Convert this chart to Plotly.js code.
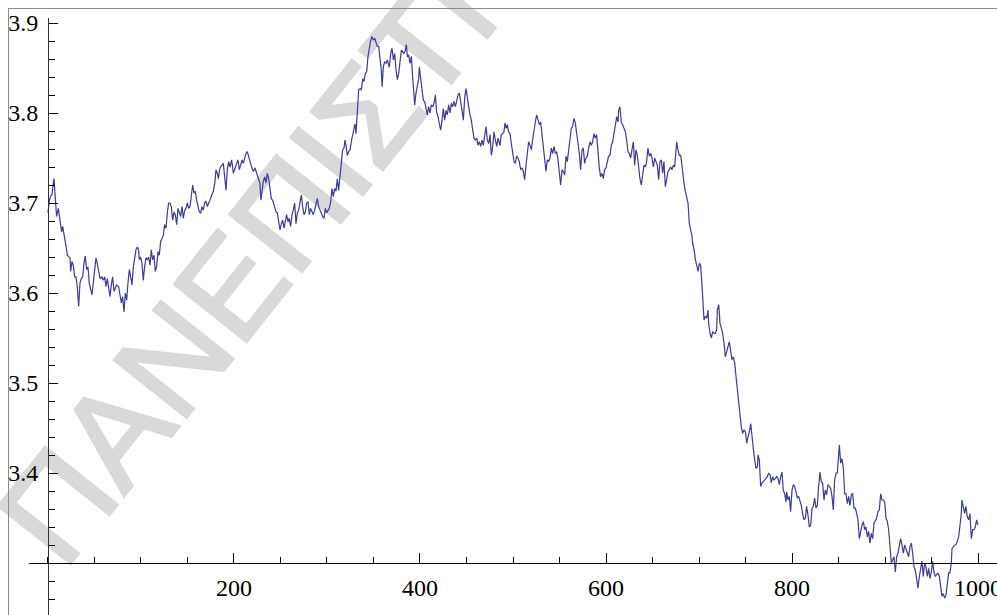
<!DOCTYPE html>
<html><head><meta charset="utf-8">
<script src="https://cdn.plot.ly/plotly-3.0.1.min.js"></script>
<style>
html,body{margin:0;padding:0;background:#fff;}
#wrap{position:relative;width:997px;height:615px;overflow:hidden;background:#fff;}
#wm{position:absolute;left:0;top:0;z-index:0;}
#frame{position:absolute;left:8px;top:8px;width:1200px;height:800px;border-left:1px solid #8a8a8a;border-top:1px solid #8a8a8a;z-index:2;pointer-events:none;}
#chart{position:absolute;left:0;top:0;width:997px;height:615px;z-index:1;}
#chart text{font-family:"Liberation Serif","Times New Roman",serif !important;}
</style></head>
<body><div id="wrap">
<svg id="wm" width="997" height="615"><text x="64" y="572" transform="rotate(-51.6 64 572)" font-family="'Liberation Sans', Arial, sans-serif" font-size="134" fill="#d9d9d9" stroke="#d9d9d9" stroke-width="3">ΠΑΝΕΠΙΣΤΗΜΙΟ</text></svg>
<div id="chart"></div><div id="frame"></div></div>
<script>
// readings [x, y], segment by segment
const seg1 = [[0,3.689],[1.4,3.702],[2.9,3.708],[4.3,3.709],[5.7,3.722],[6.5,3.727],[7.5,3.711],[9.3,3.685],[11.1,3.694],[12.2,3.685],[13.6,3.674],[14.7,3.668],[15.8,3.674],[17.2,3.663],[19.4,3.652],[20.8,3.642],[22.2,3.640],[23.7,3.639],[24.4,3.624],[25.8,3.635],[27.2,3.631],[28.7,3.618],[30.1,3.618],[31.5,3.607],[33.0,3.585],[34.4,3.611],[35.8,3.616],[37.3,3.618],[38.7,3.633],[40.1,3.641],[41.6,3.626],[43.0,3.629],[44.4,3.611],[45.9,3.605],[47.3,3.598],[48.7,3.611],[50.2,3.629],[51.6,3.639],[53.0,3.633],[54.5,3.626],[55.9,3.616],[58.1,3.618],[59.5,3.614],[60.9,3.618],[62.4,3.607],[63.8,3.616],[65.2,3.605],[66.7,3.596],[68.1,3.609],[69.5,3.618],[71.0,3.602],[72.4,3.607],[73.8,3.609],[76.0,3.607],[77.4,3.596],[78.9,3.589],[80.3,3.596],[81.7,3.579],[83.2,3.600],[84.6,3.592],[86.0,3.611],[87.5,3.626],[88.9,3.618],[90.3,3.609],[91.8,3.629],[93.2,3.637],[94.6,3.648],[96.1,3.651],[97.5,3.648],[98.2,3.637],[99.6,3.640],[101.1,3.633],[102.5,3.614],[103.9,3.629],[105.4,3.639],[106.8,3.637],[108.2,3.640],[109.7,3.631],[111.1,3.648],[112.5,3.637],[114.0,3.642],[115.4,3.624],[116.8,3.629],[118.3,3.646],[119.7,3.642],[121.1,3.657],[122.6,3.661],[124.0,3.664],[125.4,3.676],[126.9,3.672],[128.3,3.689],[129.7,3.700],[131.2,3.700],[132.6,3.696],[134.1,3.681],[135.5,3.690],[136.9,3.687],[138.4,3.676],[139.8,3.694],[141.2,3.689],[142.7,3.685],[144.1,3.696],[145.5,3.683],[147.0,3.692],[148.4,3.694],[149.8,3.700],[151.3,3.694],[152.7,3.696],[154.1,3.711],[155.6,3.720],[157.0,3.711],[158.4,3.713],[159.9,3.703],[161.3,3.696],[162.7,3.690],[164.2,3.689],[165.6,3.696],[167.0,3.692],[168.5,3.700],[169.9,3.702],[171.3,3.696],[172.8,3.700],[174.2,3.703]];
const seg2 = [[176.0,3.709],[177.8,3.713],[179.6,3.724],[180.6,3.737],[182.1,3.733],[183.2,3.727],[184.9,3.739],[186.7,3.742],[188.5,3.744],[190.3,3.726],[191.4,3.714],[192.8,3.737],[194.3,3.746],[195.7,3.740],[197.5,3.748],[199.3,3.733],[201.1,3.740],[202.9,3.744],[204.3,3.748],[205.7,3.737],[207.2,3.742],[208.6,3.748],[210.0,3.744],[211.5,3.750],[212.9,3.755],[214.3,3.757],[215.8,3.751],[217.2,3.744],[219.0,3.740],[220.8,3.735],[222.6,3.739],[224.4,3.733],[226.2,3.727],[227.9,3.722],[229.0,3.703],[230.1,3.716],[231.5,3.724],[233.0,3.729],[234.4,3.722],[235.8,3.733],[237.3,3.727],[238.7,3.716],[240.1,3.705],[241.6,3.703],[243.0,3.698],[245.2,3.690],[246.6,3.689],[248.0,3.679],[249.5,3.670],[250.9,3.677],[252.3,3.681],[253.8,3.672],[255.2,3.679],[256.6,3.687],[258.1,3.679],[259.5,3.683],[260.9,3.674],[262.4,3.687],[263.8,3.692],[265.2,3.700],[266.7,3.677],[268.1,3.689],[269.5,3.692],[271.0,3.701],[272.4,3.709],[273.8,3.696],[275.3,3.687],[276.7,3.690],[278.1,3.700],[279.6,3.701],[281.0,3.687],[282.4,3.694],[283.9,3.689],[285.3,3.687],[286.7,3.692],[288.2,3.701],[289.6,3.705],[291.0,3.696],[292.5,3.692],[293.9,3.689],[295.3,3.685],[296.8,3.683],[298.2,3.694],[299.6,3.689],[301.1,3.692],[302.5,3.694],[303.9,3.701],[305.4,3.716],[306.8,3.707],[308.2,3.716],[309.7,3.713],[311.1,3.727],[312.5,3.714],[314.0,3.733],[315.4,3.751],[316.8,3.759],[318.3,3.761],[319.3,3.770],[320.4,3.764],[321.9,3.753],[323.3,3.757],[324.7,3.759]];
const seg3 = [[326.5,3.770],[328.3,3.781],[330.1,3.788],[331.2,3.777],[332.6,3.800],[334.1,3.826],[335.5,3.827],[336.9,3.826],[338.4,3.838],[339.8,3.835],[341.2,3.844],[342.7,3.846],[344.1,3.863],[345.5,3.874],[347.0,3.881],[348.4,3.885],[349.8,3.881],[351.3,3.883],[352.7,3.877],[354.1,3.874],[355.6,3.874],[357.0,3.863],[358.4,3.848],[359.2,3.829],[360.6,3.851],[362.0,3.857],[363.5,3.855],[364.9,3.859],[366.3,3.855],[367.0,3.851],[368.5,3.866],[369.9,3.872],[371.4,3.859],[372.8,3.866],[374.2,3.848],[375.7,3.837],[377.1,3.844],[378.5,3.861],[380.0,3.870],[381.4,3.868],[382.8,3.866],[384.3,3.870],[385.3,3.876],[386.4,3.863],[387.8,3.864],[389.3,3.855],[390.7,3.863],[392.1,3.840],[393.6,3.822],[394.3,3.809],[395.7,3.822],[397.2,3.833],[398.6,3.838],[399.3,3.851],[400.7,3.838],[402.2,3.829],[403.6,3.814],[405.0,3.813],[406.5,3.803],[407.9,3.798],[409.3,3.807],[410.8,3.800],[412.2,3.809],[413.6,3.807],[415.1,3.811],[416.5,3.820],[417.9,3.801],[419.4,3.796],[420.8,3.788],[422.2,3.781],[423.7,3.792],[425.1,3.805],[426.5,3.792],[428.0,3.803],[429.4,3.798],[430.8,3.809],[432.3,3.800],[433.7,3.811],[435.2,3.807],[436.6,3.813],[438.0,3.807],[439.5,3.816],[440.9,3.820],[442.3,3.822],[443.8,3.814],[445.2,3.803],[446.6,3.792],[448.1,3.818],[449.5,3.827],[450.9,3.814],[452.4,3.807],[453.8,3.798],[455.2,3.792],[456.7,3.781],[458.1,3.772],[459.5,3.770],[461.0,3.772],[462.4,3.764],[463.8,3.768],[465.3,3.763],[466.7,3.770],[468.1,3.764],[469.6,3.779],[471.0,3.785],[472.4,3.770],[473.9,3.766],[475.3,3.776],[476.7,3.753],[478.2,3.763],[479.6,3.779],[481.0,3.770],[482.5,3.763],[483.9,3.772]];
const seg4 = [[486.0,3.764],[487.4,3.776],[488.9,3.777],[490.3,3.779],[491.4,3.789],[492.5,3.783],[493.9,3.787],[495.3,3.779],[496.8,3.777],[498.2,3.766],[499.6,3.757],[501.1,3.746],[502.5,3.744],[503.9,3.752],[505.4,3.750],[506.8,3.746],[508.2,3.737],[509.7,3.739],[511.1,3.735],[512.5,3.726],[514.0,3.742],[515.4,3.757],[516.8,3.768],[518.3,3.764],[519.7,3.759],[521.1,3.770],[522.6,3.783],[524.0,3.790],[525.4,3.798],[526.9,3.792],[528.3,3.787],[529.7,3.790],[531.2,3.776],[532.6,3.768],[534.0,3.752],[535.5,3.735],[536.9,3.748],[538.3,3.746],[539.8,3.750],[541.2,3.761],[542.6,3.755],[544.1,3.763],[545.5,3.755],[546.9,3.757],[548.4,3.748],[549.8,3.737],[551.2,3.720],[552.7,3.737],[554.1,3.735],[555.5,3.731],[557.0,3.752],[558.4,3.746],[559.8,3.757],[561.3,3.774],[562.7,3.783],[564.1,3.785],[565.6,3.794],[567.0,3.789],[568.4,3.779],[569.9,3.764],[571.3,3.755],[572.7,3.737],[574.2,3.759],[575.6,3.761],[577.0,3.744],[578.5,3.750],[579.9,3.752],[581.3,3.761],[582.8,3.768],[584.2,3.764],[585.6,3.768],[587.1,3.777],[588.5,3.772],[589.9,3.776],[591.4,3.753],[592.8,3.739],[594.2,3.729],[595.7,3.733],[597.1,3.727],[598.5,3.737],[600.0,3.739],[601.4,3.746],[602.8,3.752],[604.3,3.753],[605.7,3.764],[607.2,3.768],[608.6,3.777],[610.0,3.783],[611.5,3.796],[612.9,3.790],[613.6,3.803],[615.0,3.807],[616.5,3.789],[617.9,3.787],[619.3,3.783],[620.8,3.779],[622.2,3.770],[623.6,3.757],[625.1,3.755],[626.5,3.750],[627.9,3.759],[629.4,3.768],[630.8,3.742],[632.2,3.759],[633.7,3.753],[635.1,3.737],[636.5,3.727],[638.0,3.720],[639.4,3.735],[640.8,3.742],[642.3,3.740],[643.7,3.746],[645.1,3.761],[646.6,3.752],[648.0,3.755],[649.4,3.750],[650.9,3.740],[652.3,3.750],[653.7,3.746],[655.2,3.742],[656.6,3.726],[658.0,3.746],[659.5,3.748],[660.9,3.733],[662.3,3.746],[663.8,3.718],[665.2,3.726],[666.6,3.735],[668.1,3.737],[669.5,3.740],[670.9,3.737],[672.4,3.742],[673.8,3.740],[675.2,3.755],[676.0,3.768],[677.4,3.759],[678.8,3.753],[680.3,3.753],[681.7,3.739]];
const seg5 = [[683.9,3.722],[685.3,3.713],[686.8,3.705],[688.2,3.700],[689.6,3.677],[691.1,3.670],[692.5,3.663],[693.2,3.655],[694.7,3.648],[696.1,3.637],[697.5,3.629],[699.0,3.624],[700.4,3.633],[701.8,3.631],[703.3,3.607],[704.7,3.585],[705.4,3.570],[706.8,3.574],[708.3,3.572],[709.7,3.581],[710.4,3.566],[711.9,3.555],[713.3,3.550],[714.7,3.557],[716.2,3.555],[717.6,3.555],[719.0,3.559],[719.7,3.581],[721.2,3.587],[721.9,3.577],[722.6,3.566],[724.0,3.561],[725.5,3.555],[726.9,3.544],[728.3,3.529],[729.8,3.535],[731.2,3.540],[732.6,3.546],[734.1,3.535],[735.5,3.526],[736.9,3.529],[738.4,3.522],[739.8,3.507],[741.3,3.492],[742.7,3.474],[744.1,3.463],[745.6,3.450],[747.0,3.444],[748.4,3.448],[749.9,3.446],[751.3,3.433],[752.7,3.440],[754.2,3.446],[755.6,3.455],[757.0,3.437],[758.5,3.426],[759.9,3.414],[761.3,3.405],[762.8,3.407],[763.5,3.420],[764.9,3.414],[766.3,3.385],[767.8,3.389],[769.2,3.390],[770.6,3.392],[772.1,3.394],[773.5,3.396],[774.9,3.400],[776.4,3.398]];
const seg6 = [[777.7,3.389],[779.2,3.396],[780.6,3.392],[782.0,3.394],[783.5,3.396],[784.9,3.394],[786.3,3.387],[787.8,3.396],[789.2,3.401],[790.6,3.381],[792.1,3.377],[793.5,3.368],[794.2,3.379],[795.7,3.370],[797.1,3.374],[798.5,3.357],[800.0,3.381],[801.4,3.387],[802.8,3.385],[804.3,3.379],[805.7,3.372],[807.1,3.374],[808.6,3.368],[810.0,3.364],[811.4,3.355],[812.9,3.348],[814.3,3.350],[815.7,3.363],[817.2,3.353],[818.6,3.340],[820.0,3.342],[821.5,3.361],[822.9,3.363],[824.3,3.372],[825.8,3.361],[827.2,3.364],[828.6,3.385],[830.1,3.401],[831.5,3.390],[832.9,3.389],[834.4,3.370],[835.8,3.381],[837.2,3.376],[838.7,3.387],[840.1,3.385],[841.5,3.383],[843.0,3.374],[844.4,3.359],[845.8,3.392],[847.3,3.400],[848.7,3.400],[850.1,3.429],[850.9,3.431],[852.3,3.411],[853.7,3.416],[855.2,3.405],[856.6,3.377],[858.0,3.377],[859.5,3.366],[860.9,3.374],[862.3,3.364],[863.8,3.376],[865.2,3.377],[866.6,3.361],[868.1,3.361],[869.5,3.355],[870.9,3.348],[872.4,3.327],[873.8,3.337],[875.2,3.342],[876.7,3.346],[878.1,3.337],[879.5,3.340],[881.0,3.329],[882.4,3.335],[883.8,3.322],[885.3,3.333],[886.7,3.327],[888.1,3.344],[889.6,3.348],[891.0,3.350],[892.4,3.357],[893.9,3.359],[895.3,3.377],[896.7,3.370],[898.2,3.370],[899.6,3.368],[901.0,3.350],[902.5,3.346],[903.9,3.337],[905.3,3.318],[906.8,3.300],[908.2,3.303],[909.6,3.307],[911.1,3.290],[912.5,3.307],[913.9,3.311],[915.4,3.318],[916.8,3.327],[918.2,3.320],[919.7,3.311],[921.1,3.320],[922.5,3.316],[924.0,3.311],[925.4,3.307],[926.8,3.318],[928.3,3.322],[929.7,3.311],[931.1,3.296],[932.6,3.292],[934.0,3.281],[935.4,3.272],[936.9,3.285],[938.3,3.294],[939.7,3.302],[941.2,3.285],[942.6,3.300],[944.0,3.296],[945.5,3.285],[946.9,3.294],[948.3,3.283],[949.8,3.290],[951.2,3.302],[952.6,3.290],[954.1,3.285],[955.5,3.287],[956.9,3.289],[958.4,3.285],[959.8,3.272],[961.2,3.263],[962.7,3.266],[964.1,3.261],[965.5,3.264],[967.0,3.279],[968.4,3.289],[969.8,3.289],[971.3,3.300],[972.0,3.316],[973.4,3.318],[974.9,3.320],[976.3,3.320],[977.7,3.324],[979.2,3.329],[980.6,3.342],[982.0,3.355],[982.7,3.370],[984.2,3.363],[985.6,3.355],[987.0,3.363],[988.5,3.351],[989.9,3.348],[991.3,3.355],[992.8,3.327],[994.2,3.337],[995.6,3.337],[997.1,3.340],[998.5,3.348],[1000,3.342]];

const xTickVals = [200, 400, 600, 800, 1000];
const xTickText = ['200', '400', '600', '800', '1000'];
const yTickVals = [3.4, 3.5, 3.6, 3.7, 3.8, 3.9];
const yTickText = ['3.4', '3.5', '3.6', '3.7', '3.8', '3.9'];

const all = seg1.concat(seg2, seg3, seg4, seg5, seg6);
const xs = all.map(p => p[0]);
const ys = all.map(p => p[1]);

const trace = {
  x: xs, y: ys, type: 'scatter', mode: 'lines',
  line: {color: '#3b3b9c', width: 1.2},
  hoverinfo: 'skip'
};

const fontSerif = 'Liberation Serif';
const layout = {
  width: 997, height: 615,
  margin: {l: 29, r: 0, t: 18, b: 0, pad: 0},
  paper_bgcolor: 'rgba(0,0,0,0)', plot_bgcolor: 'rgba(0,0,0,0)',
  showlegend: false,
  font: {family: fontSerif, size: 23, color: '#000'},
  xaxis: {
    range: [-20.4, 1020.4], anchor: 'free', position: 0.0871,
    showgrid: false, zeroline: false, showline: true, linecolor: '#000', linewidth: 1,
    ticks: 'inside', ticklen: 10, tickwidth: 1, tickcolor: '#000',
    tickmode: 'array', tickvals: xTickVals, ticktext: xTickText,
    ticklabelstandoff: 3, ticklabeloverflow: 'allow',
    tickfont: {family: fontSerif, size: 24, color: '#000'},
    minor: {ticks: 'inside', tickmode: 'linear', tick0: 0, dtick: 50, ticklen: 6, tickwidth: 1, tickcolor: '#000', showgrid: false}
  },
  yaxis: {
    range: [3.24222, 3.90556], anchor: 'free', position: 0.01963,
    showgrid: false, zeroline: false, showline: true, linecolor: '#333', linewidth: 1,
    ticks: 'inside', ticklen: 9, tickwidth: 1, tickcolor: '#000',
    tickmode: 'array', tickvals: yTickVals, ticktext: yTickText,
    ticklabelstandoff: 5, ticklabeloverflow: 'allow',
    tickfont: {family: fontSerif, size: 24, color: '#000'},
    minor: {ticks: 'inside', tickmode: 'linear', tick0: 3.3, dtick: 0.02, ticklen: 6, tickwidth: 1, tickcolor: '#000', showgrid: false}
  }
};

Plotly.newPlot('chart', [trace], layout, {displayModeBar: false, staticPlot: true});
</script>
</body></html>
